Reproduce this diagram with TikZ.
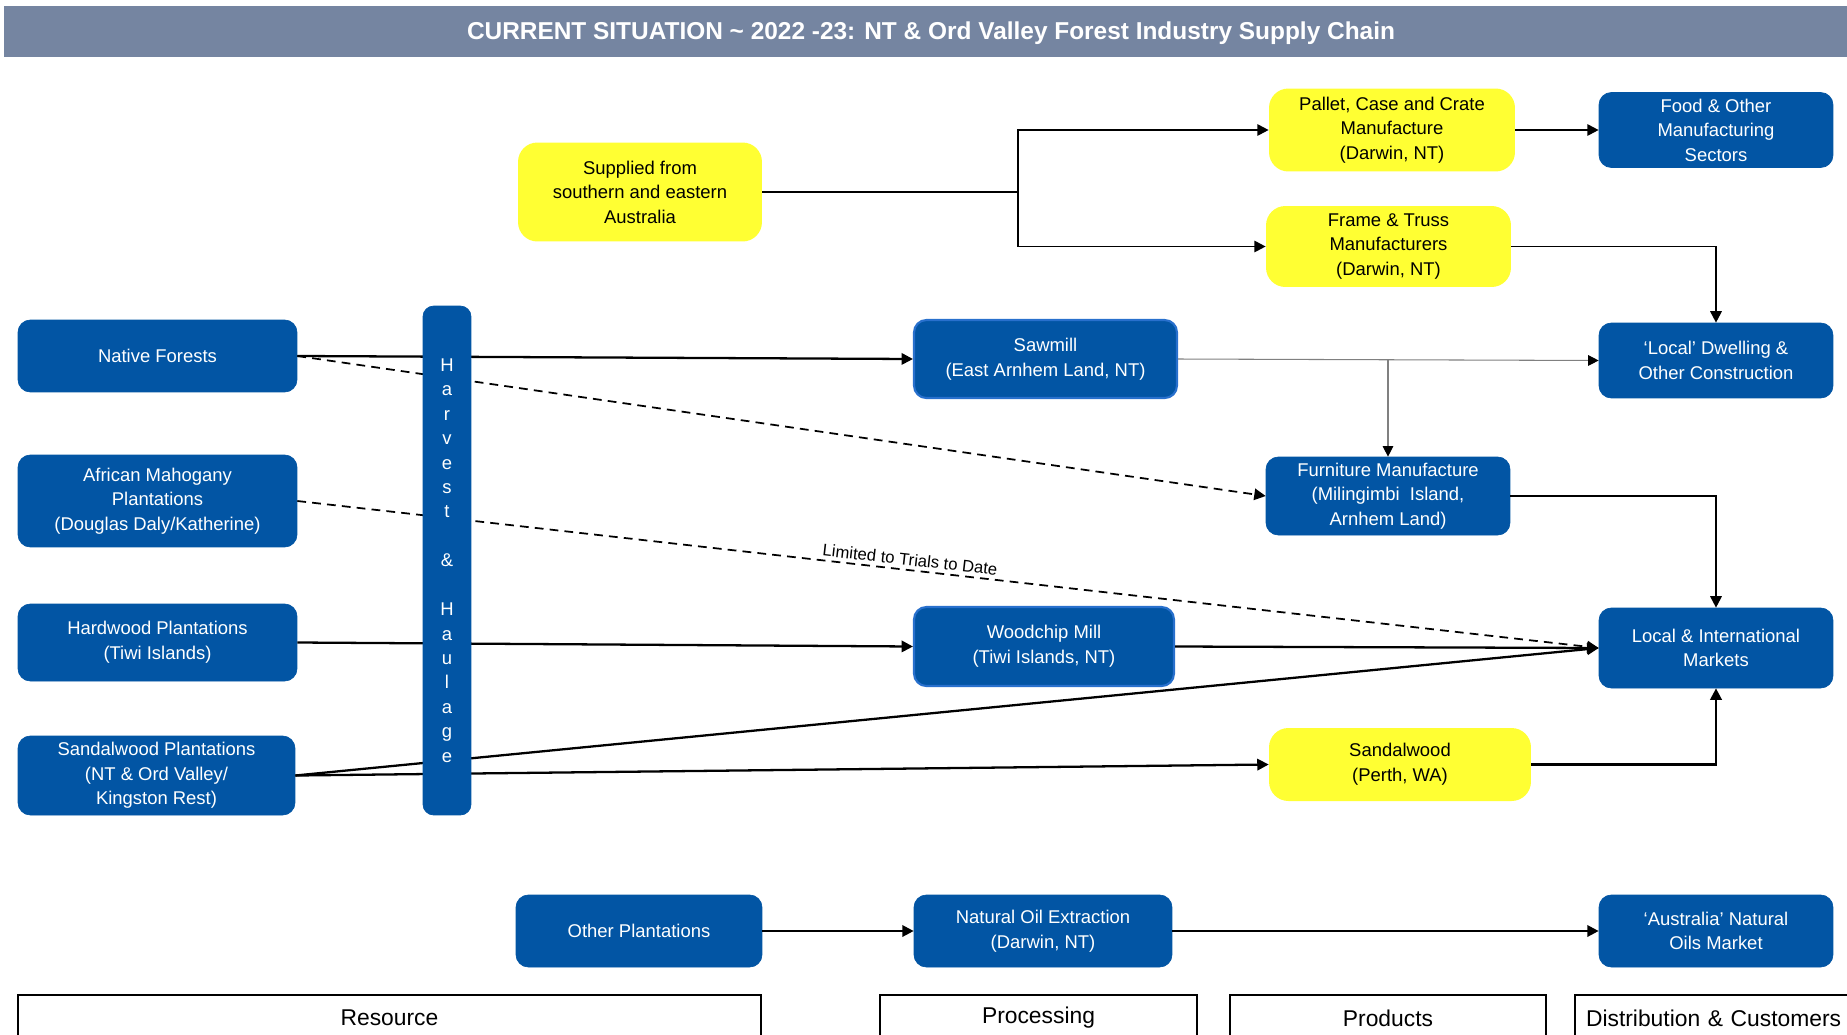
\documentclass[tikz,border=0pt]{standalone}
\usepackage{fontspec}
\setmainfont{Liberation Sans}
\usetikzlibrary{arrows.meta}
\definecolor{boxblue}{RGB}{2,85,164}
\definecolor{millrim}{RGB}{40,112,205}
\definecolor{boxyellow}{RGB}{255,255,51}
\definecolor{titlegray}{RGB}{117,133,161}
\begin{document}
\begin{tikzpicture}[x=0.02cm, y=-0.02cm,
    bluebox/.style={draw=boxblue, fill=boxblue, text=white, rounded corners=7pt,
      align=center, inner sep=1pt, font=\fontsize{10.5}{14}\selectfont},
    millbox/.style={bluebox, draw=millrim, line width=1.2pt},
    yellowbox/.style={fill=boxyellow, text=black, rounded corners=11pt,
      align=center, inner sep=1pt, font=\fontsize{10.5}{14}\selectfont},
    stagebox/.style={draw=black, line width=1.2pt, minimum height=0.92cm,
      font=\fontsize{13}{15}\selectfont},
    flow/.style={line width=1.3pt, -{Triangle[length=6.5pt,width=6.5pt]}},
    thinflow/.style={line width=0.6pt, black!50, -{Triangle[length=6pt,width=6pt,color=black]}},
    trial/.style={flow, line width=1pt, dash pattern=on 5pt off 3.5pt}]
  \useasboundingbox (0,0) rectangle (1847,1035);
  \fill[white] (0,0) rectangle (1847,1035);

  % title bar
  \fill[titlegray] (4,6) rectangle (1847,57);
  \node[text=white, font=\fontsize{13.9}{16}\selectfont\bfseries] (title) at (931,33)
    {CURRENT SITUATION \textasciitilde{} 2022 -23: NT \& Ord Valley Forest Industry Supply Chain};

  % resources
  \node[bluebox, minimum width=5.58cm, minimum height=1.44cm] (native) at (157.5,356) {Native Forests};
  \node[bluebox, minimum width=5.58cm, minimum height=1.84cm] (mahogany) at (157.5,501)
    {African Mahogany\\Plantations\\(Douglas Daly/Katherine)};
  \node[bluebox, minimum width=5.58cm, minimum height=1.54cm] (hardwood) at (157.5,642.5)
    {Hardwood Plantations\\(Tiwi Islands)};
  \node[bluebox, minimum width=5.54cm, minimum height=1.58cm] (sandplant) at (156.5,775.5)
    {Sandalwood Plantations\\(NT \& Ord Valley/\\Kingston Rest)};
  \node[bluebox, minimum width=4.92cm, minimum height=1.44cm] (otherplant) at (639,931) {Other Plantations};
  \node[yellowbox, minimum width=4.88cm, minimum height=1.98cm] (supplied) at (640,192)
    {Supplied from\\southern and eastern\\Australia};

  % processing
  \node[millbox, minimum width=5.26cm, minimum height=1.56cm] (sawmill) at (1045.5,359)
    {Sawmill\\(East Arnhem Land, NT)};
  \node[millbox, minimum width=5.2cm, minimum height=1.58cm] (woodchip) at (1044,646.5)
    {Woodchip Mill\\(Tiwi Islands, NT)};
  \node[bluebox, minimum width=5.16cm, minimum height=1.44cm] (oilx) at (1043,931)
    {Natural Oil Extraction\\(Darwin, NT)};

  % products
  \node[yellowbox, minimum width=4.92cm, minimum height=1.66cm] (pallet) at (1392,130)
    {Pallet, Case and Crate\\Manufacture\\(Darwin, NT)};
  \node[yellowbox, minimum width=4.9cm, minimum height=1.62cm] (truss) at (1388.5,246.5)
    {Frame \& Truss\\Manufacturers\\(Darwin, NT)};
  \node[bluebox, minimum width=4.88cm, minimum height=1.56cm] (furniture) at (1388,496)
    {Furniture Manufacture\\(Milingimbi\ \ Island,\\Arnhem Land)};
  \node[yellowbox, minimum width=5.24cm, minimum height=1.46cm] (perth) at (1400,764.5)
    {Sandalwood\\(Perth, WA)};

  % customers
  \node[bluebox, minimum width=4.68cm, minimum height=1.5cm] (food) at (1716,130)
    {Food \& Other\\Manufacturing\\Sectors};
  \node[bluebox, minimum width=4.68cm, minimum height=1.5cm] (dwelling) at (1716,360.5)
    {‘Local’ Dwelling \&\\Other Construction};
  \node[bluebox, minimum width=4.68cm, minimum height=1.6cm] (intl) at (1716,648)
    {Local \& International\\Markets};
  \node[bluebox, minimum width=4.68cm, minimum height=1.44cm] (oilmkt) at (1716,931)
    {‘Australia’ Natural\\Oils Market};

  % flows
  \coordinate (split) at (1018,192);
  \draw[line width=1.1pt] (supplied.east) -- (split);
  \draw[flow, line width=1.1pt] (split) |- (pallet.west);
  \draw[flow, line width=1.1pt] (split) |- (truss.west);
  \draw[flow, line width=1.1pt] (pallet.east) -- (food.west);
  \draw[flow, line width=1.1pt] (truss.east) -| (dwelling.north);
  \draw[thinflow] (sawmill.east) -- (dwelling.west);
  \draw[thinflow] (furniture.north |- sawmill.east) -- (furniture.north);
  \draw[flow, line width=1.1pt] (furniture.east) -| (intl.north);
  \draw[flow] (native.east) -- (sawmill.west);
  \draw[trial] (native.east) -- (furniture.west);
  \draw[trial] (mahogany.east) -- node[sloped, above, pos=0.47, inner sep=2pt,
    font=\fontsize{9.5}{11}\selectfont] (triallabel) {Limited to Trials to Date} (intl.west);
  \draw[flow] (hardwood.east) -- (woodchip.west);
  \draw[flow] (woodchip.east) -- (intl.west);
  \draw[flow] (sandplant.east) -- (intl.west);
  \draw[flow] (sandplant.east) -- (perth.west);
  \draw[flow] (perth.east) -| (intl.south);
  \draw[flow] (otherplant.east) -- (oilx.west);
  \draw[flow] (oilx.east) -- (oilmkt.west);

  % harvest & haulage bar over the flows
  \node[draw=boxblue, fill=boxblue, rounded corners=6pt, minimum width=0.96cm,
    minimum height=10.18cm, text=white, align=center,
    font=\fontsize{10.5}{13.9}\selectfont] (haulage) at (447,560.5)
    {H\\a\\r\\v\\e\\s\\t\\[13.9pt]\&\\[13.9pt]H\\a\\u\\l\\a\\g\\e};

  % stage labels
  \node[stagebox, minimum width=14.86cm] (resource) at (389.5,1018) {Resource};
  \node[stagebox, minimum width=6.34cm] (processing) at (1038.5,1018) {Processing};
  \node[stagebox, minimum width=6.32cm] (products) at (1388,1018) {Products};
  \node[stagebox, minimum width=5.64cm, text width=5.2cm, align=left] (customers) at (1716,1018)
    {Distribution \& Customers};
\end{tikzpicture}
\end{document}
